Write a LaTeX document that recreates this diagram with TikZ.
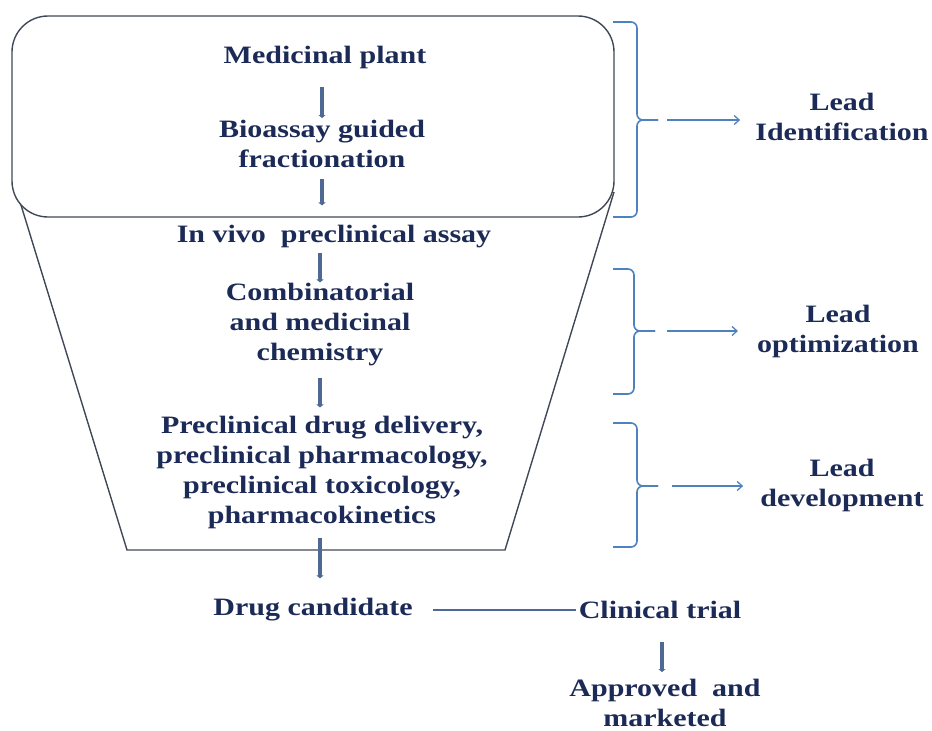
\documentclass[tikz,border=0pt]{standalone}
\usepackage{fontspec}
\setmainfont{Liberation Serif}[FakeStretch=1.2]
\usetikzlibrary{arrows.meta}
\definecolor{textc}{RGB}{27,42,86}
\definecolor{arrc}{RGB}{78,106,148}
\definecolor{boxc}{RGB}{64,72,88}
\definecolor{brc}{RGB}{79,129,189}
\begin{document}
\begin{tikzpicture}[x=1pt,y=-1pt,
  lbl/.style={font=\fontsize{25}{30}\selectfont\bfseries, text=textc, align=center, inner sep=0pt},
  varrow/.style={draw=arrc, line width=4.5pt, -{Triangle[length=3pt,width=7pt]}},
  hline/.style={draw=arrc, line width=2.5pt},
  boxline/.style={draw=boxc, line width=1.4pt},
  brack/.style={draw=brc, line width=1.6pt, rounded corners=6pt},
  larrow/.style={draw=brc, line width=1.3pt, -{Straight Barb[length=5pt,width=9pt]}}]
\useasboundingbox (0,0) rectangle (932,731);
% funnel
\draw[boxline] (17,192) -- (127,550) -- (505,550) -- (614,192);
\draw[boxline, fill=white, rounded corners=36pt] (12,16) rectangle (614,217);
% texts
\node[lbl] (med) at (325,57) {Medicinal plant};
\node[lbl] (bio) at (322,144) {Bioassay guided\\fractionation};
\node[lbl] (inv) at (334,237) {In vivo\ \ preclinical assay};
\node[lbl] (comb) at (320,325) {Combinatorial\\and medicinal\\chemistry};
\node[lbl] (pre) at (322,472) {Preclinical drug delivery,\\preclinical pharmacology,\\preclinical toxicology,\\pharmacokinetics};
\node[lbl] (drug) at (313,610) {Drug candidate};
\node[lbl] (clin) at (660,610) {Clinical trial};
\node[lbl] (appr) at (665,703) {Approved\ \ and\\marketed};
\node[lbl] (l1) at (842,117) {Lead\\Identification};
\node[lbl] (l2) at (838,331) {Lead\\optimization};
\node[lbl] (l3) at (842,485) {Lead\\development};
% vertical arrows
\draw[varrow, shorten <=18pt, shorten >=2pt] (med.south -| bio.north) -- (bio.north);
\draw[varrow, shorten <=11pt, shorten >=20pt] (bio.south) -- (bio.south |- inv.north);
\draw[varrow, shorten <=4pt, shorten >=1pt] (inv.south -| comb.north) -- (comb.north);
\draw[varrow, shorten <=11pt, shorten >=8pt] (comb.south) -- (comb.south |- pre.north);
\draw[varrow, shorten <=9pt, shorten >=20pt] (pre.south -| comb.south) -- (comb.south |- drug.north);
\draw[varrow, shorten <=23pt, shorten >=7pt] ([xshift=2pt]clin.south) -- ([xshift=2pt]clin.south |- appr.north);
\draw[hline, shorten <=20pt, shorten >=3pt] (drug.east) -- (clin.west);
% brackets
\draw[brack] (613,22) -- (637,22) -- (637,120) -- (658,120);
\draw[brack] (613,217) -- (637,217) -- (637,120) -- (658,120);
\draw[brack] (613,269) -- (634,269) -- (634,331) -- (655,331);
\draw[brack] (613,394) -- (634,394) -- (634,331) -- (655,331);
\draw[brack] (613,423) -- (637,423) -- (637,486) -- (658,486);
\draw[brack] (613,547) -- (637,547) -- (637,486) -- (658,486);
\coordinate (t1) at (667,120);
\coordinate (t2) at (667,331);
\coordinate (t3) at (672,486);
\draw[larrow, shorten >=15pt] (t1) -- (t1 -| l1.west);
\draw[larrow, shorten >=19pt] (t2) -- (t2 -| l2.west);
\draw[larrow, shorten >=17pt] (t3) -- (t3 -| l3.west);
\end{tikzpicture}
\end{document}
